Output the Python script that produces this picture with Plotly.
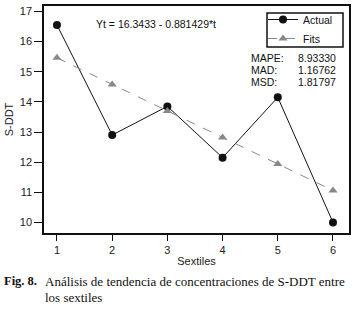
import plotly.graph_objects as go

sextiles = [1, 2, 3, 4, 5, 6]
actual = [16.55, 12.90, 13.85, 12.15, 14.15, 10.00]
fits = [15.46, 14.58, 13.70, 12.82, 11.94, 11.06]
x_ticks = [1, 2, 3, 4, 5, 6]
y_ticks = [10, 11, 12, 13, 14, 15, 16, 17]
equation = "Yt = 16.3433 - 0.881429*t"
stat_names = ["MAPE:", "MAD:", "MSD:"]
stat_values = ["8.93330", "1.16762", "1.81797"]

W, H = 354, 310
l, r, t, b = 44, 5, 6, 77
pw, ph = W - l - r, H - t - b


def px(xp):
    return (xp - l) / pw


def py(yp):
    return (H - b - yp) / ph


fig = go.Figure()
fig.add_trace(go.Scatter(
    x=sextiles, y=actual, name="Actual", mode="lines+markers",
    line=dict(color="#111111", width=1),
    marker=dict(symbol="circle", size=8, color="#111111"),
))
fig.add_trace(go.Scatter(
    x=sextiles, y=fits, name="Fits", mode="lines+markers",
    line=dict(color="#888888", width=1, dash="dash"),
    marker=dict(symbol="triangle-up", size=8, color="#888888"),
))

font_sans = "Liberation Sans, Arial, sans-serif"
font_serif = "Liberation Serif, Times New Roman, serif"
ink = "#111111"

fig.update_layout(
    width=W, height=H,
    margin=dict(l=l, r=r, t=t, b=b, autoexpand=False),
    paper_bgcolor="white", plot_bgcolor="white",
    font=dict(family=font_sans, size=11, color="#222222"),
    showlegend=True,
    legend=dict(
        x=px(263), y=py(5), xanchor="left", yanchor="top",
        borderwidth=0, bgcolor="rgba(0,0,0,0)",
        font=dict(size=10.5, color=ink),
        itemwidth=30, tracegroupgap=0,
    ),
    xaxis=dict(
        range=[0.765, 6.29], tickvals=x_ticks, ticks="outside", ticklen=6,
        tickcolor=ink, showline=True, linecolor=ink, linewidth=1.5,
        mirror=True, showgrid=False, zeroline=False, automargin=False,
        title=dict(text="Sextiles", font=dict(size=11), standoff=2),
        tickfont=dict(size=11),
    ),
    yaxis=dict(
        range=[9.65, 17.18], tickvals=y_ticks, ticks="outside", ticklen=8,
        tickcolor=ink, showline=True, linecolor=ink, linewidth=1.5,
        mirror=True, showgrid=False, zeroline=False, automargin=False,
        title=dict(text="S-DDT", font=dict(size=11), standoff=4),
        tickfont=dict(size=11),
    ),
)

# legend frame
fig.add_shape(type="rect", xref="paper", yref="paper",
              x0=px(267), x1=px(343), y0=py(47), y1=py(13),
              line=dict(color=ink, width=1.5), fillcolor="rgba(0,0,0,0)")

fig.add_annotation(x=px(156), y=py(24), xref="paper", yref="paper",
                   text=equation, showarrow=False, xanchor="center", yanchor="middle",
                   font=dict(size=10.5, color=ink))
for i, (nm, val) in enumerate(zip(stat_names, stat_values)):
    yy = 58 + 12 * i
    fig.add_annotation(x=px(249), y=py(yy), xref="paper", yref="paper",
                       text=nm, showarrow=False, xanchor="left", yanchor="middle",
                       font=dict(size=10.5, color=ink))
    fig.add_annotation(x=px(296), y=py(yy), xref="paper", yref="paper",
                       text=val, showarrow=False, xanchor="left", yanchor="middle",
                       font=dict(size=10.5, color=ink))

fig.add_annotation(x=px(2), y=py(281), xref="paper", yref="paper",
                   text="<b>Fig. 8.</b>", showarrow=False, xanchor="left", yanchor="middle",
                   font=dict(family=font_serif, size=12.5, color=ink))
fig.add_annotation(x=px(43), y=py(281), xref="paper", yref="paper",
                   text="Análisis de tendencia de concentraciones de S-DDT entre",
                   showarrow=False, xanchor="left", yanchor="middle",
                   font=dict(family=font_serif, size=13, color=ink))
fig.add_annotation(x=px(43), y=py(297), xref="paper", yref="paper",
                   text="los sextiles",
                   showarrow=False, xanchor="left", yanchor="middle",
                   font=dict(family=font_serif, size=13, color=ink))

fig.write_html("out.html", config={"displayModeBar": False},
               post_script="document.body.style.margin='0px';")
